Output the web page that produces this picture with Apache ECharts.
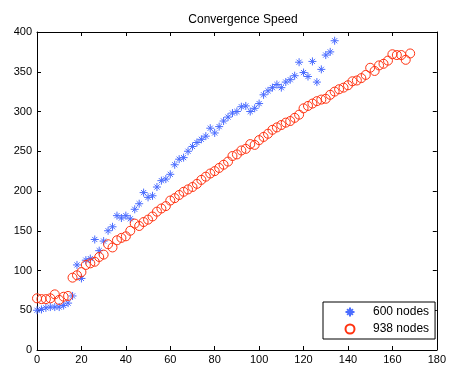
<!DOCTYPE html>
<html>
<head>
<meta charset="utf-8">
<script src="https://cdn.jsdelivr.net/npm/echarts@6/dist/echarts.min.js"></script>
<style>
  html, body { margin: 0; padding: 0; background: #fff; }
  #chart { width: 449px; height: 365px; }
</style>
</head>
<body>
<div id="chart"></div>
<script>
// values
const nodes600X = [0, 2, 4, 6, 8, 10, 12, 14, 16, 18, 20, 22, 24, 26, 28, 30, 32, 34, 36, 38,
  40, 42, 44, 46, 48, 50, 52, 54, 56, 58, 60, 62, 64, 66, 68, 70, 72, 74, 76, 78,
  80, 82, 84, 86, 88, 90, 92, 94, 96, 98, 100, 102, 104, 106, 108, 110, 112, 114, 116, 118,
  120, 122, 124, 126, 128, 130, 132, 134];
const nodes600Y = [50, 51, 53, 54, 54, 54, 56, 59, 68, 107, 90, 113, 115, 139, 125, 137, 150, 155, 169, 166,
  169, 165, 177, 184, 198, 192, 194, 205, 213, 215, 221, 233, 240, 242, 250, 256, 261, 265, 269, 279,
  273, 281, 288, 293, 298, 300, 306, 307, 300, 304, 310, 321, 326, 330, 334, 330, 337, 340, 345, 362,
  349, 344, 363, 337, 353, 371, 375, 389];

const nodes938X = [0, 2, 4, 6, 8, 10, 12, 14, 16, 18, 20, 22, 24, 26, 28, 30, 32, 34, 36, 38,
  40, 42, 44, 46, 48, 50, 52, 54, 56, 58, 60, 62, 64, 66, 68, 70, 72, 74, 76, 78,
  80, 82, 84, 86, 88, 90, 92, 94, 96, 98, 100, 102, 104, 106, 108, 110, 112, 114, 116, 118,
  120, 122, 124, 126, 128, 130, 132, 134, 136, 138, 140, 142, 144, 146, 148, 150, 152, 154, 156, 158,
  160, 162, 164, 166, 168];
const nodes938Y = [65, 64, 64, 65, 70, 63, 67, 68, 91, 94, 98, 107, 109, 111, 117, 120, 133, 129, 138, 141,
  143, 150, 159, 156, 161, 164, 168, 174, 178, 181, 188, 191, 195, 199, 202, 205, 209, 214, 218, 222,
  225, 229, 233, 237, 244, 246, 251, 253, 259, 258, 264, 268, 272, 277, 280, 283, 286, 288, 292, 296,
  304, 307, 310, 313, 315, 316, 321, 325, 328, 330, 333, 338, 339, 342, 346, 355, 351, 358, 360, 364,
  372, 371, 371, 365, 373];

const xTicks = [0, 20, 40, 60, 80, 100, 120, 140, 160, 180];
const yTicks = [0, 50, 100, 150, 200, 250, 300, 350, 400];
const seriesNames = ['600 nodes', '938 nodes'];

const pairs = (xs, ys) => xs.map((x, i) => [x, ys[i]]);
const font = 'Liberation Sans, Arial, sans-serif';
const asterisk = 'path://M5 0L5 10M0 5L10 5M1.8 1.8L8.2 8.2M8.2 1.8L1.8 8.2';

const tickStyle = { show: true, inside: true, length: 4, lineStyle: { color: '#000', width: 1 } };
const lineStyle = { show: true, onZero: false, lineStyle: { color: '#000', width: 1 } };

function xAxis(position, labels) {
  return {
    type: 'value', position, min: xTicks[0], max: xTicks[xTicks.length - 1],
    interval: xTicks[1] - xTicks[0],
    axisLine: lineStyle, axisTick: tickStyle, splitLine: { show: false },
    axisLabel: { show: labels, color: '#000', fontSize: 11, fontFamily: font, margin: 4 }
  };
}
function yAxis(position, labels) {
  return {
    type: 'value', position, min: yTicks[0], max: yTicks[yTicks.length - 1],
    interval: yTicks[1] - yTicks[0],
    axisLine: lineStyle, axisTick: tickStyle, splitLine: { show: false },
    axisLabel: { show: labels, color: '#000', fontSize: 11, fontFamily: font, margin: 5 }
  };
}

const chart = echarts.init(document.getElementById('chart'), null, { renderer: 'canvas' });
chart.setOption({
  animation: false,
  backgroundColor: '#fff',
  title: {
    text: 'Convergence Speed', left: 238, top: 9, textAlign: 'center',
    textStyle: { fontSize: 12, fontWeight: 'normal', color: '#000', fontFamily: font }
  },
  grid: { left: 37, top: 32, width: 405, height: 319, containLabel: false },
  xAxis: [xAxis('bottom', true), xAxis('top', false)],
  yAxis: [yAxis('left', true), yAxis('right', false)],
  legend: {
    data: seriesNames, orient: 'vertical', left: 323, top: 302,
    backgroundColor: '#fff', borderColor: '#000', borderWidth: 1, borderRadius: 0,
    padding: [3, 6, 3, 20], itemWidth: 36, itemHeight: 9, itemGap: 3,
    textStyle: { fontSize: 12, color: '#000', fontFamily: font }
  },
  series: [
    {
      name: seriesNames[0], type: 'scatter', data: pairs(nodes600X, nodes600Y),
      symbol: asterisk, symbolSize: 8,
      itemStyle: { color: 'none', borderColor: '#4a6cff', borderWidth: 1, opacity: 1 }
    },
    {
      name: seriesNames[1], type: 'scatter', data: pairs(nodes938X, nodes938Y),
      symbol: 'circle', symbolSize: 9,
      itemStyle: { color: 'none', borderColor: '#ff3311', borderWidth: 1, opacity: 1 }
    }
  ]
});
</script>
</body>
</html>
